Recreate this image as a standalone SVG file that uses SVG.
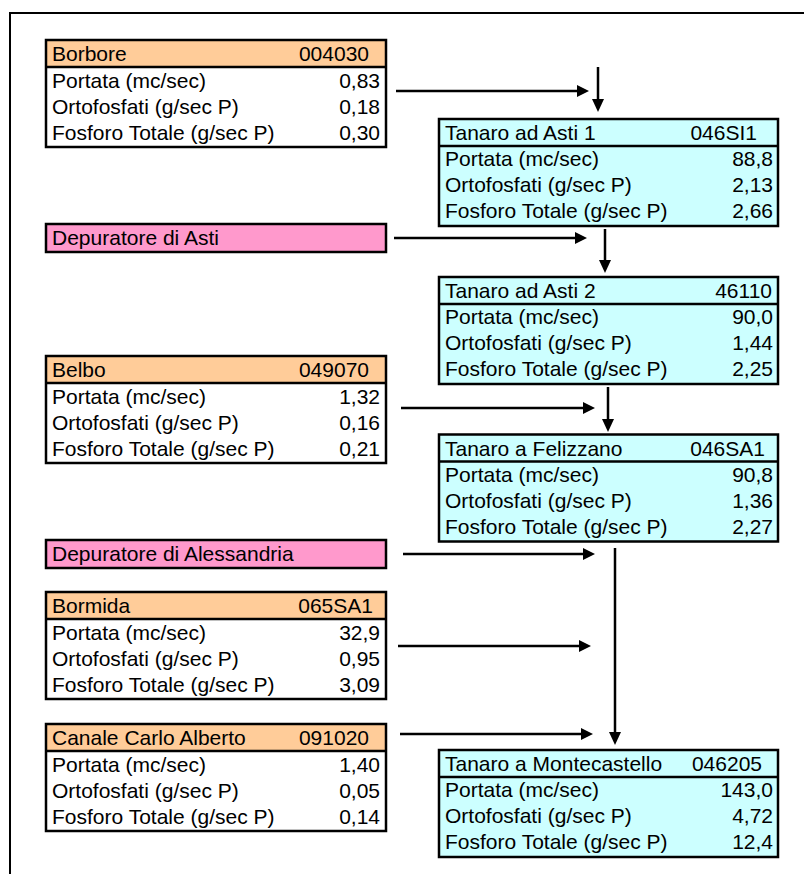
<svg xmlns="http://www.w3.org/2000/svg" width="804" height="874" viewBox="0 0 804 874">
<style>
  .bg { fill: #ffffff; }
  .frame { fill: none; stroke: #000; stroke-width: 2; }
  .outline { fill: none; stroke: #000; stroke-width: 2.5; }
  .sep { stroke: #000; stroke-width: 2.5; }
  .body-w { fill: #ffffff; }
  .body-c { fill: #ccffff; }
  .hdr-o { fill: #ffcc99; }
  .hdr-p { fill: #ff99cc; }
  text { font-family: "Liberation Sans", Arial, sans-serif; font-size: 21px; fill: #000; }
  .r { text-anchor: end; }
  .conn line { stroke: #000; stroke-width: 2.5; }
  .conn polygon { fill: #000; }
</style>
<rect class="bg" x="0" y="0" width="804" height="874"/>
<path class="frame" d="M10,875 V13 H805"/>

<g id="borbore">
  <rect class="body-w" x="46" y="40" width="340" height="107"/>
  <rect class="hdr-o" x="46" y="40" width="340" height="27"/>
  <line class="sep" x1="46" y1="67" x2="386" y2="67"/>
  <rect class="outline" x="46" y="40" width="340" height="107"/>
  <text x="52" y="61">Borbore</text><text class="r" x="369" y="61">004030</text>
  <text x="52" y="87.5">Portata (mc/sec)</text><text class="r" x="380" y="87.5">0,83</text>
  <text x="52" y="113.5">Ortofosfati (g/sec P)</text><text class="r" x="380" y="113.5">0,18</text>
  <text x="52" y="139.5">Fosforo Totale (g/sec P)</text><text class="r" x="380" y="139.5">0,30</text>
</g>

<g id="dep-asti">
  <rect class="hdr-p" x="46" y="224" width="340" height="28"/>
  <rect class="outline" x="46" y="224" width="340" height="28"/>
  <text x="52" y="245">Depuratore di Asti</text>
</g>

<g id="belbo">
  <rect class="body-w" x="46" y="356" width="340" height="107"/>
  <rect class="hdr-o" x="46" y="356" width="340" height="27"/>
  <line class="sep" x1="46" y1="383" x2="386" y2="383"/>
  <rect class="outline" x="46" y="356" width="340" height="107"/>
  <text x="52" y="377">Belbo</text><text class="r" x="369" y="377">049070</text>
  <text x="52" y="403.5">Portata (mc/sec)</text><text class="r" x="380" y="403.5">1,32</text>
  <text x="52" y="429.5">Ortofosfati (g/sec P)</text><text class="r" x="380" y="429.5">0,16</text>
  <text x="52" y="455.5">Fosforo Totale (g/sec P)</text><text class="r" x="380" y="455.5">0,21</text>
</g>

<g id="dep-alessandria">
  <rect class="hdr-p" x="46" y="540" width="340" height="28"/>
  <rect class="outline" x="46" y="540" width="340" height="28"/>
  <text x="52" y="561">Depuratore di Alessandria</text>
</g>

<g id="bormida">
  <rect class="body-w" x="46" y="592" width="340" height="107"/>
  <rect class="hdr-o" x="46" y="592" width="340" height="27"/>
  <line class="sep" x1="46" y1="619" x2="386" y2="619"/>
  <rect class="outline" x="46" y="592" width="340" height="107"/>
  <text x="52" y="613">Bormida</text><text class="r" x="373" y="613">065SA1</text>
  <text x="52" y="639.5">Portata (mc/sec)</text><text class="r" x="380" y="639.5">32,9</text>
  <text x="52" y="665.5">Ortofosfati (g/sec P)</text><text class="r" x="380" y="665.5">0,95</text>
  <text x="52" y="691.5">Fosforo Totale (g/sec P)</text><text class="r" x="380" y="691.5">3,09</text>
</g>

<g id="canale-carlo-alberto">
  <rect class="body-w" x="46" y="724" width="340" height="107"/>
  <rect class="hdr-o" x="46" y="724" width="340" height="27"/>
  <line class="sep" x1="46" y1="751" x2="386" y2="751"/>
  <rect class="outline" x="46" y="724" width="340" height="107"/>
  <text x="52" y="745">Canale Carlo Alberto</text><text class="r" x="369" y="745">091020</text>
  <text x="52" y="771.5">Portata (mc/sec)</text><text class="r" x="380" y="771.5">1,40</text>
  <text x="52" y="797.5">Ortofosfati (g/sec P)</text><text class="r" x="380" y="797.5">0,05</text>
  <text x="52" y="823.5">Fosforo Totale (g/sec P)</text><text class="r" x="380" y="823.5">0,14</text>
</g>

<g id="tanaro-asti-1">
  <rect class="body-c" x="439" y="119" width="339" height="107"/>
  <line class="sep" x1="439" y1="146" x2="778" y2="146"/>
  <rect class="outline" x="439" y="119" width="339" height="107"/>
  <text x="445" y="140">Tanaro ad Asti 1</text><text class="r" x="757" y="140">046SI1</text>
  <text x="445" y="166">Portata (mc/sec)</text><text class="r" x="773" y="166">88,8</text>
  <text x="445" y="192">Ortofosfati (g/sec P)</text><text class="r" x="773" y="192">2,13</text>
  <text x="445" y="218">Fosforo Totale (g/sec P)</text><text class="r" x="773" y="218">2,66</text>
</g>

<g id="tanaro-asti-2">
  <rect class="body-c" x="439" y="277" width="339" height="107"/>
  <line class="sep" x1="439" y1="304" x2="778" y2="304"/>
  <rect class="outline" x="439" y="277" width="339" height="107"/>
  <text x="445" y="298">Tanaro ad Asti 2</text><text class="r" x="772" y="298">46110</text>
  <text x="445" y="324">Portata (mc/sec)</text><text class="r" x="773" y="324">90,0</text>
  <text x="445" y="350">Ortofosfati (g/sec P)</text><text class="r" x="773" y="350">1,44</text>
  <text x="445" y="376">Fosforo Totale (g/sec P)</text><text class="r" x="773" y="376">2,25</text>
</g>

<g id="tanaro-felizzano">
  <rect class="body-c" x="439" y="434.5" width="339" height="107"/>
  <line class="sep" x1="439" y1="461.5" x2="778" y2="461.5"/>
  <rect class="outline" x="439" y="434.5" width="339" height="107"/>
  <text x="445" y="455.5">Tanaro a Felizzano</text><text class="r" x="765" y="455.5">046SA1</text>
  <text x="445" y="481.5">Portata (mc/sec)</text><text class="r" x="773" y="481.5">90,8</text>
  <text x="445" y="507.5">Ortofosfati (g/sec P)</text><text class="r" x="773" y="507.5">1,36</text>
  <text x="445" y="533.5">Fosforo Totale (g/sec P)</text><text class="r" x="773" y="533.5">2,27</text>
</g>

<g id="tanaro-montecastello">
  <rect class="body-c" x="439" y="750" width="339" height="107"/>
  <line class="sep" x1="439" y1="777" x2="778" y2="777"/>
  <rect class="outline" x="439" y="750" width="339" height="107"/>
  <text x="445" y="771">Tanaro a Montecastello</text><text class="r" x="762" y="771">046205</text>
  <text x="445" y="797">Portata (mc/sec)</text><text class="r" x="773" y="797">143,0</text>
  <text x="445" y="823">Ortofosfati (g/sec P)</text><text class="r" x="773" y="823">4,72</text>
  <text x="445" y="849">Fosforo Totale (g/sec P)</text><text class="r" x="773" y="849">12,4</text>
</g>

<g id="connectors" class="conn">
  <line x1="396" y1="91" x2="580" y2="91"/><polygon points="577,85 589,91 577,97"/>
  <line x1="598" y1="67" x2="598" y2="102"/><polygon points="592,99 598,112 604,99"/>
  <line x1="394" y1="238" x2="578" y2="238"/><polygon points="575,232 587,238 575,244"/>
  <line x1="605" y1="229" x2="605" y2="263"/><polygon points="599,260 605,273 611,260"/>
  <line x1="401" y1="408" x2="586" y2="408"/><polygon points="583,402 595,408 583,414"/>
  <line x1="608" y1="387" x2="608" y2="422"/><polygon points="602,419 608,432 614,419"/>
  <line x1="403" y1="554" x2="586" y2="554"/><polygon points="583,548 595,554 583,560"/>
  <line x1="615" y1="548" x2="615" y2="735"/><polygon points="609,732 615,745 621,732"/>
  <line x1="398" y1="646" x2="582" y2="646"/><polygon points="579,640 591,646 579,652"/>
  <line x1="400" y1="734" x2="584" y2="734"/><polygon points="581,728 593,734 581,740"/>
</g>
</svg>
